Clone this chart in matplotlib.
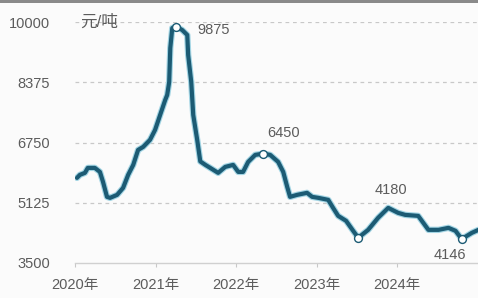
import matplotlib
matplotlib.use('Agg')
import matplotlib.pyplot as plt
import matplotlib.patches as mpatches
import pandas as pd

# ── data ────────────────────────────────────────────────────────────────────
dates = ['2020-01-10', '2020-01-23', '2020-02-15', '2020-02-28', '2020-03-31',
         '2020-04-23', '2020-05-07', '2020-05-25', '2020-06-08', '2020-07-10',
         '2020-08-06', '2020-08-29', '2020-09-21', '2020-10-13', '2020-11-05',
         '2020-12-06', '2020-12-29', '2021-01-21', '2021-02-13', '2021-02-22',
         '2021-03-03', '2021-03-08', '2021-03-17', '2021-04-04', '2021-05-01',
         '2021-05-24', '2021-05-28', '2021-06-11', '2021-06-20', '2021-07-08',
         '2021-07-22', '2021-08-14', '2021-09-05', '2021-10-11', '2021-11-12',
         '2021-12-18', '2022-01-10', '2022-02-01', '2022-02-24', '2022-03-28',
         '2022-05-03', '2022-06-04', '2022-07-10', '2022-08-02', '2022-08-20',
         '2022-09-02', '2022-10-04', '2022-11-18', '2022-12-11', '2023-01-08',
         '2023-02-22', '2023-03-16', '2023-04-08', '2023-05-14', '2023-06-15',
         '2023-07-08', '2023-08-22', '2023-10-06', '2023-11-21', '2024-01-05',
         '2024-02-06', '2024-04-05', '2024-04-28', '2024-05-21', '2024-07-06',
         '2024-08-20', '2024-09-21', '2024-10-19', '2024-12-04', '2025-01-03']
prices = [5796, 5877, 5931, 6065, 6065,
          5957, 5688, 5284, 5257, 5338,
          5526, 5877, 6146, 6550, 6631,
          6820, 7089, 7494, 7898, 8033,
          8383, 9299, 9838, 9875, 9784,
          9650, 9111, 8383, 7494, 6820,
          6240, 6146, 6065, 5931, 6092,
          6146, 5957, 5957, 6227, 6416,
          6450, 6416, 6227, 5957, 5553,
          5284, 5338, 5392, 5284, 5257,
          5203, 4987, 4771, 4637, 4368,
          4180, 4394, 4718, 4987, 4852,
          4798, 4771, 4583, 4394, 4394,
          4448, 4368, 4146, 4313, 4394]

mark_dates  = ['2021-04-04', '2022-05-03', '2023-07-08', '2024-10-19']
mark_values = [9875, 6450, 4180, 4146]
mark_offset = [(37, -3), (20, 21), (33, 48), (-12, -16)]   # label offset, px

y_ticks  = [3500, 5125, 6750, 8375, 10000]
years    = [2020, 2021, 2022, 2023, 2024]
unit     = '元/吨'

# ── style ───────────────────────────────────────────────────────────────────
FONT   = ['Liberation Sans', 'Noto Sans CJK SC', 'DejaVu Sans']
TXT    = '#5c5c5c'
LINE   = '#1c5b74'
HALO   = '#a3d5e4'
BG     = '#fbfbfb'

t = pd.to_datetime(dates)
tm = pd.to_datetime(mark_dates)

fig = plt.figure(figsize=(4.78, 2.98), dpi=100)
fig.patch.set_facecolor(BG)
ax = fig.add_axes([75 / 478, 1 - 263 / 298, 1 - 75 / 478, (263 - 22) / 298])
ax.set_facecolor(BG)

# grid
for v in y_ticks[1:]:
    ax.axhline(v, color='#c8c8c8', lw=0.9, ls=(0, (3, 3)), zorder=1)

ax.plot(t, prices, color=HALO, lw=4.6, solid_capstyle='round',
        solid_joinstyle='round', zorder=2)
ax.plot(t, prices, color=LINE, lw=3.0, solid_capstyle='round',
        solid_joinstyle='round', zorder=3)
ax.scatter(tm, mark_values, s=32, facecolor='white', edgecolor=LINE,
           linewidth=1.0, zorder=4, clip_on=False)

for d, v, (dx, dy) in zip(tm, mark_values, mark_offset):
    ax.annotate(f'{v}', xy=(d, v), xytext=(dx, dy), textcoords='offset pixels',
                ha='center', va='center', fontsize=10.5, color=TXT,
                family=FONT, annotation_clip=False)

ax.set_xlim(pd.Timestamp('2020-01-01'), pd.Timestamp('2025-01-01'))
ax.set_ylim(3500, 10000)
ax.set_yticks(y_ticks)
ax.set_yticklabels([str(v) for v in y_ticks], family=FONT, fontsize=10.5,
                   color=TXT)
ax.set_xticks([pd.Timestamp(f'{y}-01-01') for y in years])
ax.set_xticklabels([f'{y}年' for y in years], family=FONT, fontsize=10.5,
                   color=TXT)
ax.tick_params(axis='y', length=0, pad=18)
ax.tick_params(axis='x', length=3, color='#c8c8c8', pad=8)

for s in ['top', 'right', 'left']:
    ax.spines[s].set_visible(False)
ax.spines['bottom'].set_color('#d0d0d0')
ax.spines['bottom'].set_linewidth(1.0)

fig.text(80 / 478, 1 - 22 / 298, unit, ha='left', va='center',
         fontsize=12, color=TXT, family=FONT)

# thin grey border at the top of the screenshot
fig.patches.append(mpatches.Rectangle((0, 1 - 3 / 298), 1, 3 / 298,
                                      transform=fig.transFigure,
                                      facecolor='#8a8a8a', edgecolor='none'))

fig.savefig('out.png', dpi=100, facecolor=BG)
